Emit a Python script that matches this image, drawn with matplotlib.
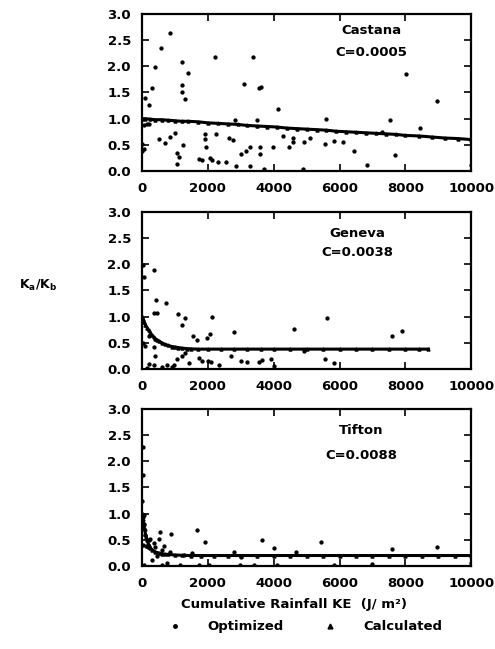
import matplotlib
matplotlib.use('Agg')
import matplotlib.pyplot as plt
from matplotlib.lines import Line2D

plt.rcParams['font.family'] = 'DejaVu Sans'
plt.rcParams['font.weight'] = 'bold'

# site names and fitted C values
sites = ['Castana', 'Geneva', 'Tifton']
c_labels = ['C=0.0005', 'C=0.0038', 'C=0.0088']

# calculated Ka/Kb curves
cas_calc_x = [0, 100, 250, 400, 600, 800, 1000, 1200, 1400, 1700, 2000, 2300, 2600, 2900, 3200, 3500,
              3800, 4100, 4400, 4700, 5000, 5300, 5600, 5900, 6200, 6500, 6800, 7100, 7400, 7700,
              8000, 8400, 8800, 9200, 9600, 10000]
cas_calc_y = [1.00, 1.00, 0.99, 0.98, 0.98, 0.97, 0.96, 0.95, 0.95, 0.94, 0.92, 0.91, 0.90, 0.89, 0.87, 0.86,
              0.85, 0.84, 0.82, 0.81, 0.80, 0.79, 0.78, 0.76, 0.75, 0.74, 0.73, 0.72, 0.71, 0.70,
              0.68, 0.67, 0.65, 0.63, 0.62, 0.60]

gen_calc_x = [0, 30, 60, 100, 150, 200, 250, 300, 350, 400, 450, 500, 600, 700, 800, 900, 1000, 1100,
              1200, 1350, 1500, 1700, 2000, 2400, 2800, 3200, 3600, 4000, 4500, 5000, 5500, 6000, 6500,
              7000, 7500, 8000, 8400, 8700]
gen_calc_y = [1.00, 0.95, 0.90, 0.85, 0.79, 0.74, 0.69, 0.65, 0.61, 0.58, 0.56, 0.54, 0.50, 0.47, 0.45,
              0.43, 0.42, 0.41, 0.40, 0.39, 0.385, 0.38, 0.38, 0.38, 0.38, 0.38, 0.38, 0.38, 0.38, 0.38,
              0.38, 0.38, 0.38, 0.38, 0.38, 0.38, 0.38, 0.38]

tif_calc_x = [0, 25, 50, 75, 100, 125, 150, 200, 250, 300, 400, 500, 600, 700, 800, 1000, 1200, 1500,
              1800, 2200, 2600, 3000, 3500, 4000, 4500, 5000, 5500, 6000, 6500, 7000, 7500, 8000, 8500,
              9000, 9500, 10000]
tif_calc_y = [1.00, 0.90, 0.80, 0.70, 0.62, 0.55, 0.49, 0.41, 0.35, 0.31, 0.27, 0.25, 0.235, 0.225, 0.22,
              0.21, 0.205, 0.20, 0.20, 0.20, 0.20, 0.20, 0.20, 0.20, 0.20, 0.20, 0.20, 0.20, 0.20, 0.20,
              0.20, 0.20, 0.20, 0.20, 0.20, 0.20]

# optimized Ka/Kb values
cas_opt_x = [860, 590, 385, 300, 80, 220, 1215, 1400, 1215, 1215, 1290, 2210, 3360, 3090, 3550, 3600,
             4120, 8020, 8950, 5590, 7530, 8440, 2810, 3500, 50, 150, 510, 690, 860, 990, 1060, 1110,
             1060, 1250, 1720, 1820, 1930, 1900, 1900, 2250, 2050, 2130, 2300, 2560, 2630, 2760, 2840,
             3020, 3170, 3290, 3290, 3580, 3580, 3700, 3970, 4460, 4290, 4590, 4590, 4910, 4880, 5090,
             5570, 5830, 6100, 6430, 6820, 7680, 7300, 9980, 0, 0, 50, 200]
cas_opt_y = [2.64, 2.35, 1.98, 1.58, 1.39, 1.27, 2.08, 1.88, 1.64, 1.50, 1.37, 2.18, 2.17, 1.66, 1.59, 1.61,
             1.19, 1.85, 1.33, 0.99, 0.97, 0.82, 0.97, 0.97, 0.87, 0.89, 0.61, 0.53, 0.65, 0.72, 0.35, 0.26,
             0.14, 0.50, 0.22, 0.21, 0.46, 0.61, 0.70, 0.70, 0.25, 0.21, 0.17, 0.17, 0.63, 0.59, 0.10,
             0.33, 0.39, 0.46, 0.10, 0.46, 0.32, 0.04, 0.46, 0.46, 0.67, 0.64, 0.55, 0.56, 0.03, 0.63,
             0.52, 0.57, 0.55, 0.39, 0.12, 0.30, 0.74, 0.11, 0.52, 0.39, 0.42, 0.90]

gen_opt_x = [30, 70, 355, 425, 730, 375, 455, 1095, 1315, 1215, 2130, 1550, 1670, 1975, 2050, 2790, 4610,
             5620, 7580, 7900, 20, 100, 405, 200, 375, 760, 965, 1065, 1215, 1420, 1720, 1820, 2000, 2080,
             2330, 2690, 3020, 3190, 3550, 3650, 3920, 4000, 5570, 5830, 4910, 220, 370, 150, 600, 900,
             1300]
gen_opt_y = [1.98, 1.76, 1.90, 1.31, 1.26, 1.07, 1.07, 1.05, 0.97, 0.85, 1.00, 0.63, 0.56, 0.60, 0.66, 0.71,
             0.77, 0.97, 0.63, 0.72, 0.50, 0.44, 0.25, 0.09, 0.08, 0.08, 0.08, 0.19, 0.25, 0.11, 0.22, 0.16,
             0.16, 0.14, 0.08, 0.25, 0.16, 0.14, 0.14, 0.17, 0.19, 0.06, 0.19, 0.11, 0.35, 0.64, 0.43, 0.02,
             0.03, 0.04, 0.30]

tif_opt_x = [30, 20, 10, 40, 50, 560, 890, 1670, 1900, 3650, 4000, 4680, 5440, 7580, 8950, 250, 355, 510,
             400, 660, 610, 860, 300, 50, 610, 760, 1150, 1720, 2030, 2990, 3390, 4100, 5830, 6990, 9980,
             1520, 1270, 2790, 3020, 40, 120, 180, 90, 60, 200, 450]
tif_opt_y = [2.28, 1.74, 1.24, 0.93, 0.98, 0.65, 0.62, 0.68, 0.46, 0.49, 0.35, 0.26, 0.46, 0.32, 0.36, 0.52,
             0.43, 0.52, 0.36, 0.39, 0.30, 0.27, 0.11, 0.02, 0.02, 0.05, 0.02, 0.02, 0.02, 0.01, 0.01, 0.02,
             0.02, 0.03, 0.05, 0.24, 0.21, 0.26, 0.18, 0.40, 0.38, 0.36, 0.60, 0.80, 0.50, 0.20]

calc_x = [cas_calc_x, gen_calc_x, tif_calc_x]
calc_y = [cas_calc_y, gen_calc_y, tif_calc_y]
opt_x = [cas_opt_x, gen_opt_x, tif_opt_x]
opt_y = [cas_opt_y, gen_opt_y, tif_opt_y]
label_pos = [(6960, 2.68, 2.26), (6530, 2.58, 2.22), (6650, 2.58, 2.12)]

fig = plt.figure(figsize=(4.95, 6.49), dpi=100)
bottoms = [0.7365, 0.4314, 0.1279]

for i in range(3):
    ax = fig.add_axes([0.287, bottoms[i], 0.665, 0.242])
    ax.plot(calc_x[i], calc_y[i], color='black', lw=2.2, marker='^', ms=2.2)
    ax.plot(opt_x[i], opt_y[i], 'o', color='black', ms=2.1, ls='none')
    ax.set_xlim(0, 10000)
    ax.set_ylim(0, 3)
    ax.set_xticks([0, 2000, 4000, 6000, 8000, 10000])
    ax.set_yticks([0, 0.5, 1.0, 1.5, 2.0, 2.5, 3.0])
    ax.set_yticklabels(['0.0', '0.5', '1.0', '1.5', '2.0', '2.5', '3.0'])
    ax.tick_params(direction='in', top=True, right=True, length=5, width=1.2,
                   labelsize=9.5, pad=8)
    for s in ax.spines.values():
        s.set_linewidth(1.6)
    xt, y1, y2 = label_pos[i]
    ax.text(xt, y1, sites[i], ha='center', va='center', fontsize=9.5, fontweight='bold')
    ax.text(xt, y2, c_labels[i], ha='center', va='center', fontsize=9.5, fontweight='bold')

fig.text(0.077, 1 - 285 / 649, 'K$_\\mathbf{a}$/K$_\\mathbf{b}$', ha='center', va='center', fontsize=9)
fig.text(0.594, 0.069, 'Cumulative Rainfall KE  (J/ m\u00b2)', ha='center', va='center', fontsize=9.5)

handles = [Line2D([], [], marker='o', color='black', ms=2.5, ls='none'),
           Line2D([], [], marker='^', color='black', ms=3.5, ls='none')]
fig.legend(handles, ['Optimized', 'Calculated'], loc='center', bbox_to_anchor=(0.61, 0.034),
           ncol=2, frameon=False, fontsize=9.5, handletextpad=1.5, columnspacing=2.5)

plt.savefig('out.png', dpi=100)
